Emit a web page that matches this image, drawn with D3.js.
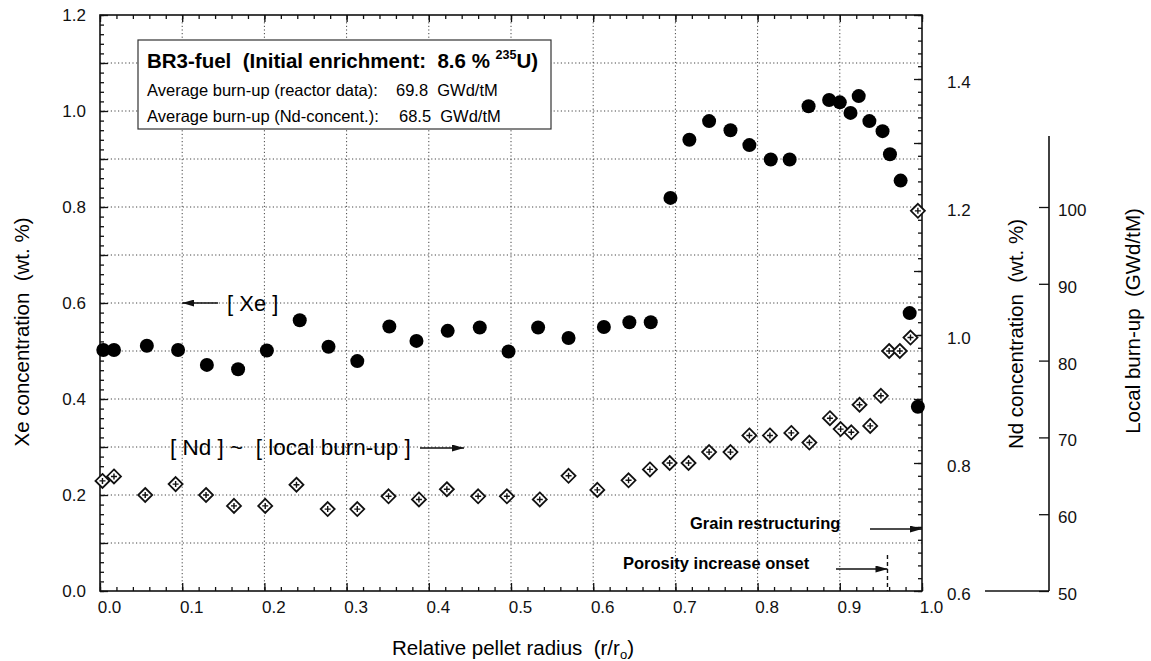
<!DOCTYPE html>
<html>
<head>
<meta charset="utf-8">
<script src="https://cdn.jsdelivr.net/npm/d3@7"></script>
<style>
  body { margin: 0; background: #fff; }
  svg { font-family: "Liberation Sans", Arial, sans-serif; }
  .tick text { font-size: 17px; fill: #111; }
  .tick line { stroke: #111; stroke-width: 1.3; }
  .grid line { stroke: #444; stroke-width: 1; stroke-dasharray: 1.2,2.4; }
</style>
</head>
<body>
<div id="chart"></div>
<script>
// Relative pellet radius (r/r0) of each Xe point and its concentration (wt. %)
var xeRadius = [0.004, 0.017, 0.057, 0.095, 0.130, 0.168, 0.203, 0.243, 0.278, 0.313,
  0.352, 0.385, 0.423, 0.462, 0.497, 0.533, 0.570, 0.613, 0.644, 0.670,
  0.694, 0.717, 0.741, 0.767, 0.790, 0.816, 0.839, 0.862, 0.887, 0.900,
  0.913, 0.923, 0.936, 0.952, 0.961, 0.974, 0.985, 0.995];
var xeConc = [0.502, 0.502, 0.511, 0.502, 0.471, 0.462, 0.501, 0.564, 0.509, 0.479,
  0.551, 0.521, 0.542, 0.549, 0.499, 0.549, 0.527, 0.550, 0.560, 0.560,
  0.819, 0.940, 0.979, 0.960, 0.929, 0.899, 0.899, 1.010, 1.023, 1.018,
  0.996, 1.031, 0.979, 0.958, 0.910, 0.855, 0.579, 0.384];

// Nd points (wt. %)
var ndRadius = [0.003, 0.017, 0.055, 0.092, 0.129, 0.163, 0.201, 0.239, 0.277, 0.313,
  0.351, 0.388, 0.422, 0.460, 0.495, 0.535, 0.570, 0.605, 0.643, 0.669,
  0.693, 0.716, 0.741, 0.767, 0.790, 0.815, 0.841, 0.863, 0.888, 0.901,
  0.914, 0.924, 0.937, 0.950, 0.960, 0.973, 0.986, 0.995];
var ndConc = [0.772, 0.779, 0.750, 0.767, 0.750, 0.733, 0.733, 0.766, 0.728, 0.728,
  0.748, 0.743, 0.759, 0.748, 0.748, 0.743, 0.780, 0.758, 0.773, 0.790,
  0.800, 0.800, 0.817, 0.817, 0.843, 0.843, 0.847, 0.832, 0.870, 0.853,
  0.848, 0.891, 0.858, 0.905, 0.975, 0.975, 0.996, 1.194];

// tick labels
var xTicks = [0, 0.1, 0.2, 0.3, 0.4, 0.5, 0.6, 0.7, 0.8, 0.9, 1.0];
var xeTicks = [0, 0.2, 0.4, 0.6, 0.8, 1.0, 1.2];
var ndTicks = [0.6, 0.8, 1.0, 1.2, 1.4];
var burnupTicks = [50, 60, 70, 80, 90, 100];

// annotation positions along the radius
var grainStart = 1.0;
var porosityOnset = 0.958;

var svgWidth = 1151;
var svgHeight = 661;

var plot = { left: 100, right: 922, top: 15, bottom: 591 };

var svg = d3.select('#chart')
  .append('svg')
  .attr('width', svgWidth)
  .attr('height', svgHeight);

var defs = svg.append('defs');
defs.append('marker')
  .attr('id', 'arrow')
  .attr('viewBox', '0 0 12 7')
  .attr('refX', 12)
  .attr('refY', 3.5)
  .attr('markerWidth', 12)
  .attr('markerHeight', 7)
  .attr('markerUnits', 'userSpaceOnUse')
  .attr('orient', 'auto')
  .append('path')
  .attr('d', 'M0,0 L12,3.5 L0,7 Z')
  .attr('fill', '#111');

// scales
var x = d3.scaleLinear().domain([0, 1]).range([plot.left, plot.right]);
var yXe = d3.scaleLinear().domain([0, 1.2]).range([plot.bottom, plot.top]);
var yNd = d3.scaleLinear().domain([0.6, 1.5]).range([plot.bottom, plot.top]);
var yBurn = d3.scaleLinear().domain([50, 100]).range([plot.bottom, yNd(1.2)]);

// gridlines (dotted)
var grid = svg.append('g').attr('class', 'grid');
grid.selectAll('line.v')
  .data(d3.range(1, 10).map(d => d / 10))
  .enter().append('line')
  .attr('x1', d => x(d)).attr('x2', d => x(d))
  .attr('y1', plot.top).attr('y2', plot.bottom);
grid.selectAll('line.h')
  .data(d3.range(1, 12).map(d => d / 10))
  .enter().append('line')
  .attr('x1', plot.left).attr('x2', plot.right)
  .attr('y1', d => yXe(d)).attr('y2', d => yXe(d));

// minor tick helper
function minor(from, to, step) {
  var n = Math.round((to - from) / step);
  return d3.range(0, n + 1).map(i => +(from + i * step).toFixed(4));
}

// bottom axis
var xMinor = d3.axisBottom(x).tickValues(minor(0, 1, 0.02)).tickSize(-4).tickFormat('');
var xMajor = d3.axisBottom(x).tickValues(xTicks).tickSize(-8).tickPadding(10).tickFormat(d3.format('.1f'));
svg.append('g').attr('transform', `translate(0, ${plot.bottom})`).call(xMinor).call(g => g.select('.domain').remove());
var xAxisG = svg.append('g').attr('transform', `translate(0, ${plot.bottom})`).call(xMajor);
xAxisG.select('.domain').remove();
xAxisG.selectAll('text').attr('dx', 9);

// top axis ticks only
svg.append('g').attr('transform', `translate(0, ${plot.top})`)
  .call(d3.axisTop(x).tickValues(minor(0, 1, 0.02)).tickSize(-4).tickFormat(''))
  .call(g => g.select('.domain').remove());
svg.append('g').attr('transform', `translate(0, ${plot.top})`)
  .call(d3.axisTop(x).tickValues(xTicks).tickSize(-7).tickFormat(''))
  .call(g => g.select('.domain').remove());

// left axis (Xe)
svg.append('g').attr('transform', `translate(${plot.left}, 0)`)
  .call(d3.axisLeft(yXe).tickValues(minor(0, 1.2, 0.02)).tickSize(-4).tickFormat(''))
  .call(g => g.select('.domain').remove());
svg.append('g').attr('transform', `translate(${plot.left}, 0)`)
  .call(d3.axisLeft(yXe).tickValues(minor(0, 1.2, 0.1)).tickSize(-8).tickFormat(''))
  .call(g => g.select('.domain').remove());
svg.append('g').attr('transform', `translate(${plot.left}, 0)`)
  .call(d3.axisLeft(yXe).tickValues(xeTicks).tickSize(0).tickPadding(14).tickFormat(d3.format('.1f')))
  .call(g => g.select('.domain').remove());

// right axis (Nd)
svg.append('g').attr('transform', `translate(${plot.right}, 0)`)
  .call(d3.axisRight(yNd).tickValues(minor(0.6, 1.5, 0.02)).tickSize(-4).tickFormat(''))
  .call(g => g.select('.domain').remove());
svg.append('g').attr('transform', `translate(${plot.right}, 0)`)
  .call(d3.axisRight(yNd).tickValues(minor(0.6, 1.5, 0.1)).tickSize(-8).tickFormat(''))
  .call(g => g.select('.domain').remove());
var ndAxisG = svg.append('g').attr('transform', `translate(${plot.right}, 0)`)
  .call(d3.axisRight(yNd).tickValues(ndTicks).tickSize(0).tickPadding(25).tickFormat(d3.format('.1f')));
ndAxisG.select('.domain').remove();
ndAxisG.selectAll('text').attr('dy', '0.52em');

// frame
svg.append('rect')
  .attr('x', plot.left).attr('y', plot.top)
  .attr('width', plot.right - plot.left)
  .attr('height', plot.bottom - plot.top)
  .attr('fill', 'none')
  .attr('stroke', '#111')
  .attr('stroke-width', 1.6);

// separate burn-up axis
var burnX = 1049;
var burnAxisG = svg.append('g').attr('transform', `translate(${burnX}, 0)`)
  .call(d3.axisRight(yBurn).tickValues(burnupTicks).tickSize(-10).tickPadding(9).tickFormat(d3.format('d')));
burnAxisG.select('.domain').remove();
burnAxisG.selectAll('text').attr('dy', '0.5em');
svg.append('line')
  .attr('x1', burnX).attr('x2', burnX)
  .attr('y1', 136).attr('y2', plot.bottom)
  .attr('stroke', '#111').attr('stroke-width', 1.6);
svg.append('line')
  .attr('x1', 985).attr('x2', burnX)
  .attr('y1', plot.bottom).attr('y2', plot.bottom)
  .attr('stroke', '#111').attr('stroke-width', 1.6);

// axis titles
svg.append('text')
  .attr('transform', `translate(29, 332) rotate(-90)`)
  .attr('text-anchor', 'middle')
  .style('font-size', '20.5px')
  .attr('xml:space', 'preserve')
  .text('Xe concentration  (wt. %)');

svg.append('text')
  .attr('transform', `translate(1023, 334) rotate(-90)`)
  .attr('text-anchor', 'middle')
  .style('font-size', '20.5px')
  .attr('xml:space', 'preserve')
  .text('Nd concentration  (wt. %)');

svg.append('text')
  .attr('transform', `translate(1140, 321) rotate(-90)`)
  .attr('text-anchor', 'middle')
  .style('font-size', '20.5px')
  .attr('xml:space', 'preserve')
  .text('Local burn-up  (GWd/tM)');

var xTitle = svg.append('text')
  .attr('x', 513).attr('y', 655)
  .attr('text-anchor', 'middle')
  .style('font-size', '20.5px')
  .attr('xml:space', 'preserve');
xTitle.append('tspan').text('Relative pellet radius  (r/r');
xTitle.append('tspan').attr('dy', 4).style('font-size', '13px').text('o');
xTitle.append('tspan').attr('dy', -4).text(')');

// Nd points: diamond with a plus inside
var ndData = ndRadius.map((r, i) => ({ r: r, v: ndConc[i] }));
var ndG = svg.append('g').selectAll('g')
  .data(ndData)
  .enter().append('g')
  .attr('transform', d => `translate(${x(d.r)}, ${yNd(d.v)})`);
ndG.append('path')
  .attr('d', 'M0,-7 L7,0 L0,7 L-7,0 Z')
  .attr('fill', '#fff')
  .attr('stroke', '#111')
  .attr('stroke-width', 1.8);
ndG.append('path')
  .attr('d', 'M-3,0 H3 M0,-3 V3')
  .attr('stroke', '#111')
  .attr('stroke-width', 1.4);

// Xe points
svg.append('g').selectAll('circle')
  .data(xeRadius.map((r, i) => ({ r: r, v: xeConc[i] })))
  .enter().append('circle')
  .attr('cx', d => x(d.r))
  .attr('cy', d => yXe(d.v))
  .attr('r', 7)
  .attr('fill', '#000');

// legend box
var legend = svg.append('g');
legend.append('rect')
  .attr('x', 138).attr('y', 40)
  .attr('width', 413).attr('height', 89)
  .attr('fill', '#fff')
  .attr('stroke', '#333')
  .attr('stroke-width', 1.2);
var title = legend.append('text')
  .attr('x', 147).attr('y', 68)
  .style('font-size', '20.5px')
  .style('font-weight', 'bold')
  .attr('xml:space', 'preserve');
title.append('tspan').text('BR3-fuel  (Initial enrichment:  8.6 % ');
title.append('tspan').attr('dy', -9).style('font-size', '12.5px').text('235');
title.append('tspan').attr('dy', 9).text('U)');

legend.append('text').attr('x', 147).attr('y', 96).style('font-size', '16.5px')
  .text('Average burn-up (reactor data):');
legend.append('text').attr('x', 396).attr('y', 96).style('font-size', '16.5px')
  .attr('xml:space', 'preserve').text('69.8  GWd/tM');
legend.append('text').attr('x', 147).attr('y', 122).style('font-size', '16.5px')
  .text('Average burn-up (Nd-concent.):');
legend.append('text').attr('x', 399).attr('y', 122).style('font-size', '16.5px')
  .attr('xml:space', 'preserve').text('68.5  GWd/tM');

// [ Xe ] annotation
svg.append('line')
  .attr('x1', 218).attr('x2', x(0.1))
  .attr('y1', yXe(0.6)).attr('y2', yXe(0.6))
  .attr('stroke', '#111').attr('stroke-width', 1.4)
  .attr('marker-end', 'url(#arrow)');
svg.append('text')
  .attr('x', 227).attr('y', yXe(0.6) + 8)
  .style('font-size', '22px')
  .attr('xml:space', 'preserve')
  .text('[ Xe ]');

// [ Nd ] annotation
svg.append('text')
  .attr('x', 170).attr('y', yXe(0.3) + 8)
  .style('font-size', '22.5px')
  .attr('xml:space', 'preserve')
  .text('[ Nd ] ~  [ local burn-up ]');
svg.append('line')
  .attr('x1', 420).attr('x2', 464)
  .attr('y1', yXe(0.3) + 1).attr('y2', yXe(0.3) + 1)
  .attr('stroke', '#111').attr('stroke-width', 1.4)
  .attr('marker-end', 'url(#arrow)');

// structure notes
svg.append('text')
  .attr('x', 690).attr('y', 529)
  .style('font-size', '16.5px')
  .style('font-weight', 'bold')
  .text('Grain restructuring');
svg.append('line')
  .attr('x1', 870).attr('x2', x(grainStart))
  .attr('y1', 529).attr('y2', 529)
  .attr('stroke', '#111').attr('stroke-width', 1.4)
  .attr('marker-end', 'url(#arrow)');

svg.append('text')
  .attr('x', 623).attr('y', 569)
  .style('font-size', '16.5px')
  .style('font-weight', 'bold')
  .text('Porosity increase onset');
svg.append('line')
  .attr('x1', 836).attr('x2', x(porosityOnset))
  .attr('y1', 569).attr('y2', 569)
  .attr('stroke', '#111').attr('stroke-width', 1.4)
  .attr('marker-end', 'url(#arrow)');
svg.append('line')
  .attr('x1', x(porosityOnset)).attr('x2', x(porosityOnset))
  .attr('y1', 555).attr('y2', plot.bottom)
  .attr('stroke', '#111').attr('stroke-width', 1.4)
  .attr('stroke-dasharray', '4,3');
</script>
</body>
</html>
